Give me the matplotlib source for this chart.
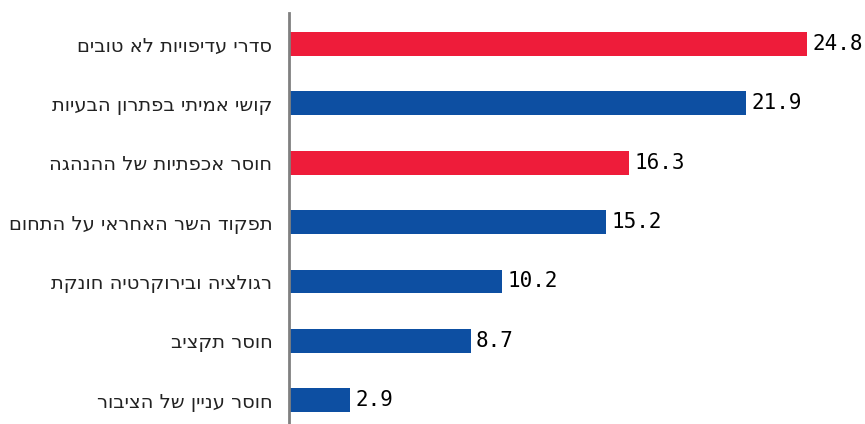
import matplotlib
matplotlib.use("Agg")
import matplotlib.pyplot as plt

categories = [
    "סדרי עדיפויות לא טובים",
    "קושי אמיתי בפתרון הבעיות",
    "חוסר אכפתיות של ההנהגה",
    "תפקוד השר האחראי על התחום",
    "רגולציה ובירוקרטיה חונקת",
    "חוסר תקציב",
    "חוסר עניין של הציבור",
]
values = [24.8, 21.9, 16.3, 15.2, 10.2, 8.7, 2.9]
highlight = [True, False, True, False, False, False, False]

red = "#EE1C3A"
blue = "#0D4FA2"

fig = plt.figure(figsize=(8.65, 4.24), dpi=100)
ax = fig.add_axes([289 / 865, 0, 576 / 865, 411 / 424])

ypos = list(range(len(categories)))
colors = [red if h else blue for h in highlight]
ax.barh(ypos, values, height=0.4, color=colors)

ax.set_xlim(0, 27.6)
ax.set_ylim(6.40, -0.52)

for y, v in zip(ypos, values):
    ax.annotate(f"{v:.1f}", (v, y), xytext=(4, 0), textcoords="offset points",
                va="center", ha="left", fontsize=15, family="DejaVu Sans Mono",
                color="black")

# matplotlib has no bidi support, reverse Hebrew for display
ax.set_yticks(ypos)
ax.set_yticklabels([c[::-1] for c in categories], fontsize=14,
                   family="DejaVu Sans", color="#222222")
ax.tick_params(axis="y", length=0, pad=12)
ax.set_xticks([])

for s in ["top", "right", "bottom"]:
    ax.spines[s].set_visible(False)
ax.spines["left"].set_color("#808080")
ax.spines["left"].set_linewidth(2)

fig.savefig("out.png", dpi=100)
